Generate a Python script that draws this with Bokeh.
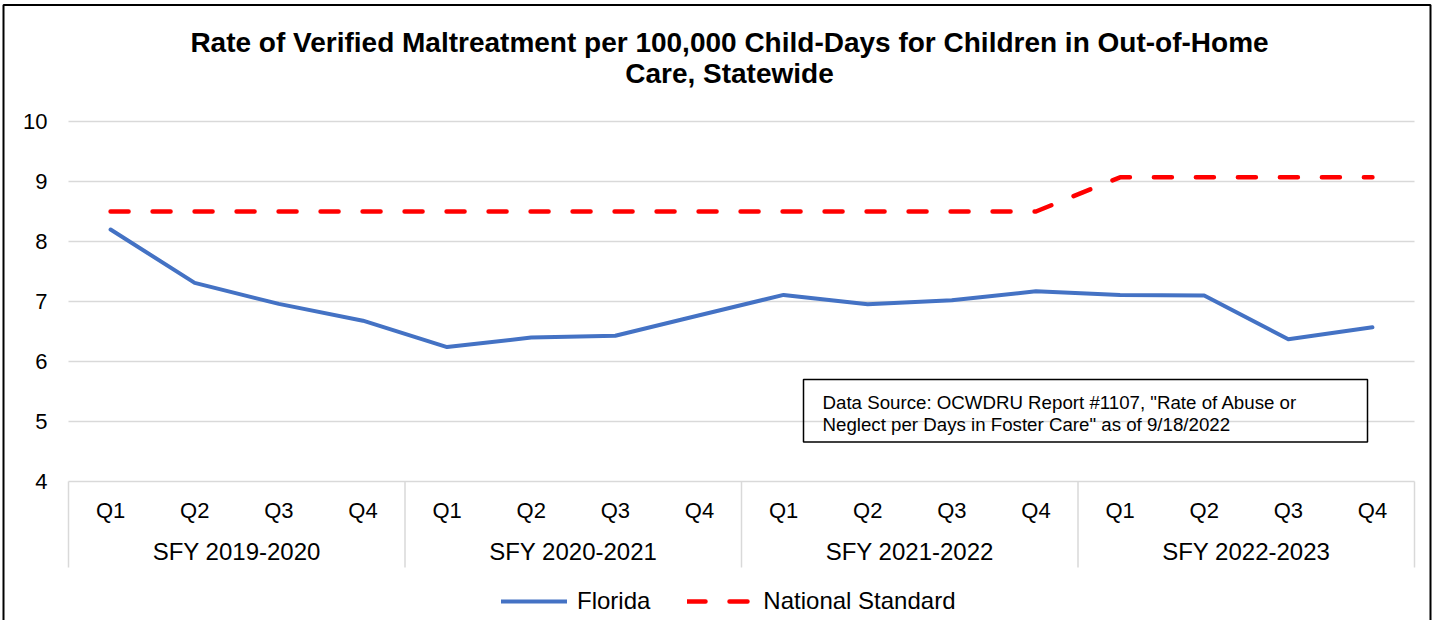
from bokeh.plotting import figure
from bokeh.models import Range1d, Label, BoxAnnotation, Legend, LegendItem
from bokeh.core.properties import value
from bokeh.embed import file_html
from bokeh.resources import INLINE

# ---------------- data ----------------
years = ["SFY 2019-2020", "SFY 2020-2021", "SFY 2021-2022", "SFY 2022-2023"]
quarters = ["Q1", "Q2", "Q3", "Q4"]
florida = [8.20, 7.31, 6.96, 6.68,
           6.24, 6.40, 6.43, 6.77,
           7.11, 6.955, 7.02, 7.17,
           7.11, 7.10, 6.37, 6.57]
national = [8.5, 8.5, 8.5, 8.5,
            8.5, 8.5, 8.5, 8.5,
            8.5, 8.5, 8.5, 8.5,
            9.07, 9.07, 9.07, 9.07]
yticks = [4, 5, 6, 7, 8, 9, 10]
ytick_labels = [str(t) for t in yticks]
title_text = ("Rate of Verified Maltreatment per 100,000 Child-Days for Children in Out-of-Home\n"
              "Care, Statewide")
source_text = ('Data Source: OCWDRU Report #1107, "Rate of Abuse or\n'
               'Neglect per Days in Foster Care" as of 9/18/2022')
series_names = ["Florida", "National Standard"]

# category positions (one slot per quarter of each fiscal year)
cat_quarters = [q for y in years for q in quarters]
xi = list(range(len(cat_quarters)))
nq = len(quarters)
group_centers = [g * nq + (nq - 1) / 2 for g in range(len(years))]
group_bounds = [g * nq - 0.5 for g in range(len(years) + 1)]

# ---------------- layout ----------------
W, H = 1432, 620
PLOT_L, PLOT_R = 68, 1414            # canvas x of plot area edges
PXU_X = (PLOT_R - PLOT_L) / len(xi)  # px per category
PXU_Y = 60.0                         # px per y unit
Y10 = 121                            # canvas y of value 10
x_start = -0.5 - PLOT_L / PXU_X
x_end = len(xi) - 0.5 + (W - PLOT_R) / PXU_X
y_end = 10 + Y10 / PXU_Y
y_start = y_end - H / PXU_Y

def dx(cx):
    return x_start + cx / PXU_X

def vy(cy):
    return y_end - cy / PXU_Y

def sy(cy):
    return H - cy

FONT = "Liberation Sans"
GRID = "#D9D9D9"

p = figure(width=W, height=H,
           x_range=Range1d(x_start, x_end), y_range=Range1d(y_start, y_end),
           x_axis_location=None, y_axis_location=None,
           output_backend="svg", toolbar_location=None,
           min_border=0, min_border_left=0, min_border_right=0,
           min_border_top=0, min_border_bottom=0)
p.outline_line_color = None
p.background_fill_color = "white"
p.border_fill_color = "white"
p.xgrid.visible = False
p.ygrid.visible = False

# horizontal gridlines
p.segment(x0=[-0.5] * len(yticks), x1=[len(xi) - 0.5] * len(yticks),
          y0=yticks, y1=yticks, line_color=GRID, line_width=1.5)
# y tick labels
p.text(x=[dx(47)] * len(yticks), y=yticks, text=ytick_labels,
       text_align="right", text_baseline="middle", text_font=value(FONT),
       text_font_size="22px", text_color="#000000")

# category axis: separators + labels
p.segment(x0=group_bounds, x1=group_bounds, y0=[4] * len(group_bounds),
          y1=[vy(567)] * len(group_bounds), line_color=GRID, line_width=1.5)
p.text(x=xi, y=[vy(510)] * len(xi), text=cat_quarters,
       text_align="center", text_baseline="middle", text_font=value(FONT),
       text_font_size="22px", text_color="#000000")
p.text(x=group_centers, y=[vy(551)] * len(years), text=years,
       text_align="center", text_baseline="middle", text_font=value(FONT),
       text_font_size="24px", text_color="#000000")

# series
r1 = p.line(x=xi, y=florida, line_color="#4472C4", line_width=4,
            line_cap="round", line_join="round")
r2 = p.line(x=xi, y=national, line_color="#FF0000", line_width=4.5,
            line_dash="18 24", line_cap="round", line_join="round")

legend = Legend(items=[LegendItem(label=series_names[0], renderers=[r1]),
                       LegendItem(label=series_names[1], renderers=[r2])],
                orientation="horizontal", location=(501, sy(615)),
                glyph_width=66, glyph_height=24, label_height=24,
                label_standoff=10, spacing=37, padding=0, margin=0,
                border_line_color=None, background_fill_alpha=0,
                label_text_font_size="24px", label_text_font=FONT,
                label_text_color="#000000")
p.add_layout(legend)

# title
p.add_layout(Label(x=729, y=sy(26), x_units="screen", y_units="screen",
                   text=title_text, text_align="center", text_baseline="top",
                   text_font=FONT, text_font_size="28px", text_font_style="bold",
                   text_line_height=1.03, text_color="#000000"))

# data source box
p.add_layout(BoxAnnotation(left=803, right=1367, top=sy(379), bottom=sy(441.5),
                           left_units="screen", right_units="screen",
                           top_units="screen", bottom_units="screen",
                           fill_alpha=0, line_color="black", line_alpha=1,
                           line_width=1.5))
p.add_layout(Label(x=822, y=sy(391), x_units="screen", y_units="screen",
                   text=source_text, text_align="left", text_baseline="top",
                   text_font=FONT, text_font_size="18.7px", text_line_height=1.08,
                   text_color="#000000"))

# outer chart border (bottom edge lies below the visible area)
p.add_layout(BoxAnnotation(left=3, right=W - 2, top=sy(4.5), bottom=-20,
                           left_units="screen", right_units="screen",
                           top_units="screen", bottom_units="screen",
                           fill_alpha=0, line_color="black", line_alpha=1,
                           line_width=2))

open("out.html", "w").write(file_html(p, INLINE))
